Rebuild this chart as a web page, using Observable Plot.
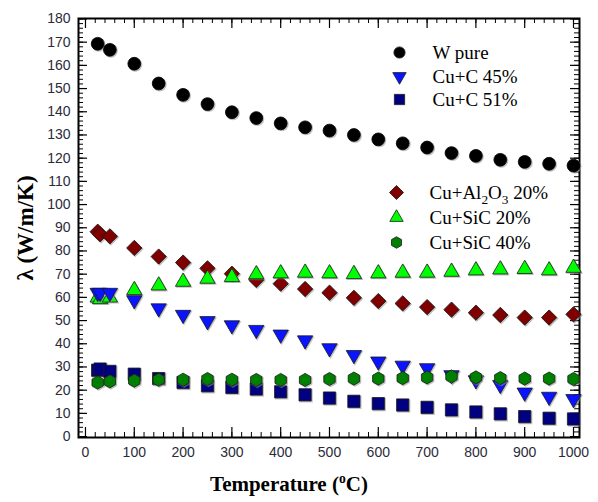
<!DOCTYPE html>
<html><head><meta charset="utf-8">
<script src="https://cdn.jsdelivr.net/npm/d3@7"></script>
<script src="https://cdn.jsdelivr.net/npm/@observablehq/plot@0.6"></script>
<style>html,body{margin:0;padding:0;background:#fff}</style>
</head><body><div id="chart"></div>
<script>
// ---- data ----
const tempW = [25,50,100,150,200,250,300,350,400,450,500,550,600,650,700,750,800,850,900,950,1000];
const wPure = [169.3,166.7,160.7,152.2,147.3,143.3,139.8,137.3,135.0,133.3,131.9,130.0,128.1,126.4,124.6,122.2,121.0,119.3,118.4,117.6,116.8];

const tempAl = [25,30,50,100,150,200,250,300,350,400,450,500,550,600,650,700,750,800,850,900,950,1000];
const cuAl2O3_20 = [88.3,87.2,86.3,81.3,77.6,75.0,72.5,70.2,67.5,65.9,63.6,62.0,59.8,58.4,57.4,55.8,54.7,53.4,52.4,51.3,51.3,52.7];

const tempSiC20 = [25,30,50,100,150,200,250,300,350,400,450,500,550,600,650,700,750,800,850,900,950,1000];
const cuSiC_20 = [59.9,59.2,59.9,63.1,65.1,66.7,68.0,68.7,69.9,70.3,70.6,70.3,70.0,70.3,70.6,70.6,71.0,71.6,72.0,72.2,71.6,72.7];

const tempC45 = [25,30,50,100,150,200,250,300,350,400,450,500,550,600,650,700,750,800,850,900,950,1000];
const cuC_45 = [62.0,62.0,62.0,58.8,55.3,52.5,49.8,48.0,46.0,44.0,41.5,38.1,35.2,32.4,30.6,29.5,26.5,24.3,22.3,19.0,17.2,16.2];

const tempC51 = [25,30,50,100,150,200,250,300,350,400,450,500,550,600,650,700,750,800,850,900,950,1000];
const cuC_51 = [28.6,29.1,28.1,26.9,25.0,23.3,21.9,21.2,20.5,19.3,18.0,16.6,15.2,14.2,13.6,12.6,11.5,10.6,9.8,8.6,7.9,7.6];

const tempSiC40 = [25,50,100,150,200,250,300,350,400,450,500,550,600,650,700,750,800,850,900,950,1000];
const cuSiC_40 = [23.3,23.8,24.1,24.5,24.5,24.8,24.5,24.4,24.4,24.4,24.8,25.0,25.0,25.2,25.5,25.9,25.5,25.2,25.0,25.0,24.8];

const xTickLabels = [0,100,200,300,400,500,600,700,800,900,1000];
const yTickLabels = [0,10,20,30,40,50,60,70,80,90,100,110,120,130,140,150,160,170,180];
const xTitle = "Temperature (oC)";
const yTitle = "λ (W/m/K)";

// ---- series styling ----
const series = [
  {name:"W pure",       t:tempW,     v:wPure,      symbol:"circle",   rotate:0,   fill:"#000000", r:6.4},
  {name:"Cu+Al2O3 20%", t:tempAl,    v:cuAl2O3_20, symbol:"square",   rotate:45,  fill:"#800000", r:6.1},
  {name:"Cu+SiC 20%",   t:tempSiC20, v:cuSiC_20,   symbol:"triangle", rotate:0,   fill:"#00ff00", r:5.7},
  {name:"Cu+C 45%",     t:tempC45,   v:cuC_45,     symbol:"triangle", rotate:180, fill:"#0a14ff", r:5.7},
  {name:"Cu+C 51%",     t:tempC51,   v:cuC_51,     symbol:"square",   rotate:0,   fill:"#000080", r:6.9},
  {name:"Cu+SiC 40%",   t:tempSiC40, v:cuSiC_40,   symbol:"hexagon",  rotate:0,   fill:"#008000", r:5.7}
];
const legendOrder = [
  {name:"W pure",       dx:321, dy:34,  tdx:354, r:5.6},
  {name:"Cu+C 45%",     dx:321, dy:58,  tdx:354, r:5.0},
  {name:"Cu+C 51%",     dx:321, dy:81,  tdx:354, r:5.8},
  {name:"Cu+Al2O3 20%", dx:318, dy:174, tdx:351, r:5.6},
  {name:"Cu+SiC 20%",   dx:318, dy:199, tdx:351, r:5.0},
  {name:"Cu+SiC 40%",   dx:318, dy:224, tdx:351, r:5.0}
];

const W = 598, H = 502, mL = 78, mR = 19, mT = 18, mB = 65;
const pw = W - mL - mR, ph = H - mT - mB;
const xMinor = d3.range(0, 1001, 20);
const yMinor = d3.range(0, 181, 2);
const tickColor = "#000";

const marks = [];
// ticks (inward, all four sides)
marks.push(Plot.ruleX(xMinor, {x: d => d, insetTop: ph - 5, stroke: tickColor, strokeWidth: 1}));
marks.push(Plot.ruleX(xTickLabels, {x: d => d, insetTop: ph - 10, stroke: tickColor, strokeWidth: 1.2}));
marks.push(Plot.ruleX(xMinor, {x: d => d, insetBottom: ph - 5, stroke: tickColor, strokeWidth: 1}));
marks.push(Plot.ruleX(xTickLabels, {x: d => d, insetBottom: ph - 10, stroke: tickColor, strokeWidth: 1.2}));
marks.push(Plot.ruleY(yMinor, {y: d => d, insetRight: pw - 5, stroke: tickColor, strokeWidth: 1}));
marks.push(Plot.ruleY(yTickLabels, {y: d => d, insetRight: pw - 9, stroke: tickColor, strokeWidth: 1.2}));
marks.push(Plot.ruleY(yMinor, {y: d => d, insetLeft: pw - 5, stroke: tickColor, strokeWidth: 1}));
marks.push(Plot.ruleY(yTickLabels, {y: d => d, insetLeft: pw - 9, stroke: tickColor, strokeWidth: 1.2}));
marks.push(Plot.frame({stroke: "#000", strokeWidth: 2}));

// axes
const tickFont = {fontFamily: "'Liberation Sans', Arial, sans-serif", fontSize: 14, fill: "#2b2b3a"};
marks.push(Plot.axisX({ticks: xTickLabels, tickSize: 0, tickPadding: 10, tickFormat: d => String(d), label: null, ...tickFont}));
marks.push(Plot.axisY({ticks: yTickLabels, tickSize: 0, tickPadding: 8, tickFormat: d => String(d), label: null, ...tickFont}));

// axis titles
const titleFont = {fontFamily: "'Liberation Serif', 'Times New Roman', serif", fontWeight: "bold", fill: "#000"};
marks.push(Plot.text([xTitle], {text: d => d, frameAnchor: "bottom", textAnchor: "middle", lineAnchor: "middle", dx: -40, dy: 47, fontSize: 21, ...titleFont}));
marks.push(Plot.text([yTitle], {text: d => d, frameAnchor: "left", textAnchor: "middle", lineAnchor: "middle", dx: -53, rotate: -90, fontSize: 23, ...titleFont}));

// data
for (const s of series) {
  const rows = s.t.map((t, i) => ({t, v: s.v[i]}));
  marks.push(Plot.dot(rows, {x: "t", y: "v", symbol: s.symbol, rotate: s.rotate, r: s.r + 0.6,
    fill: "#8c8c8c", fillOpacity: 0.55, stroke: "none", dx: 1, dy: 1}));
  marks.push(Plot.dot(rows, {x: "t", y: "v", symbol: s.symbol, rotate: s.rotate, r: s.r,
    fill: s.fill, stroke: s.fill === "#000000" ? "#000" : "#1a1a1a", strokeWidth: 0.8}));
}

// legend
for (const L of legendOrder) {
  const s = series.find(d => d.name === L.name);
  marks.push(Plot.dot([L], {frameAnchor: "top-left", dx: L.dx, dy: L.dy, symbol: s.symbol, rotate: s.rotate,
    r: L.r, fill: s.fill, stroke: "#1a1a1a", strokeWidth: 0.8}));
  marks.push(Plot.text([L], {frameAnchor: "top-left", dx: L.tdx, dy: L.dy, text: d => d.name, textAnchor: "start", lineAnchor: "middle",
    fontFamily: "'Liberation Serif', 'Times New Roman', serif", fontSize: 19, fill: "#000"}));
}

const chart = Plot.plot({
  width: W, height: H,
  marginLeft: mL, marginRight: mR, marginTop: mT, marginBottom: mB,
  x: {type: "linear", domain: [-14.3, 1012.3]},
  y: {type: "linear", domain: [-0.4, 180.2]},
  style: {background: "#fff", overflow: "visible"},
  marks
});
document.getElementById("chart").appendChild(chart);

// sub/superscripts
function rebuild(full, parts) {
  d3.select(chart).selectAll("text").filter(function() { return this.textContent === full; }).each(function() {
    const t = d3.select(this);
    t.text(null);
    for (const p of parts) {
      const ts = t.append("tspan").text(p.s);
      if (p.sub) ts.attr("dy", 5).attr("font-size", "70%");
      if (p.sup) ts.attr("dy", -8).attr("font-size", "65%");
      if (p.back) ts.attr("dy", p.back);
    }
  });
}
rebuild("Cu+Al2O3 20%", [{s:"Cu+Al"},{s:"2",sub:true},{s:"O",back:-5},{s:"3",sub:true},{s:" 20%",back:-5}]);
rebuild(xTitle, [{s:"Temperature ("},{s:"o",sup:true},{s:"C)",back:8}]);
</script>
</body></html>
